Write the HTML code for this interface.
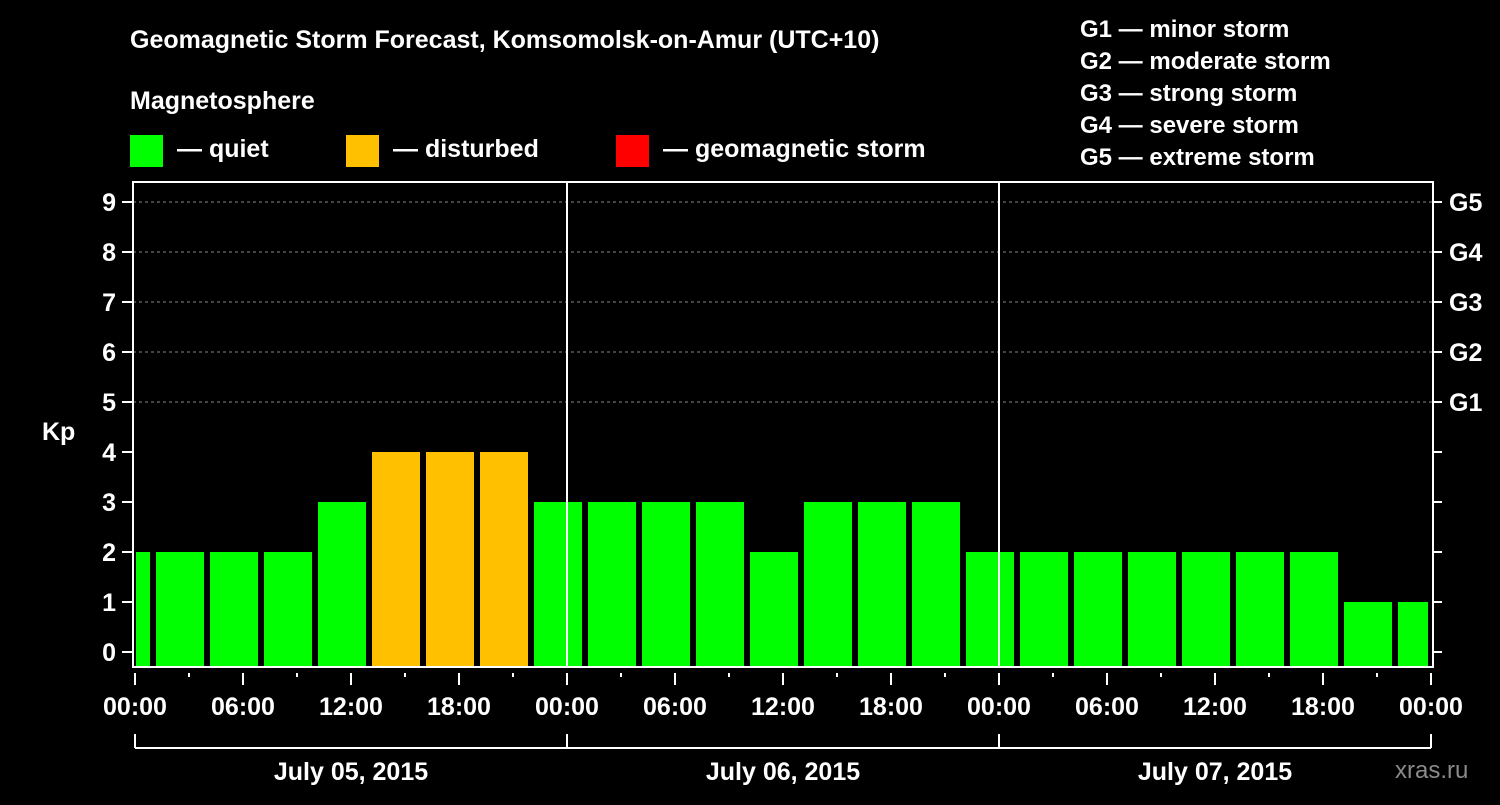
<!DOCTYPE html>
<html><head><meta charset="utf-8"><style>
body{margin:0;background:#000;width:1500px;height:800px;overflow:hidden}
svg text{font-family:"Liberation Sans",Arial,sans-serif;font-weight:bold;fill:#fff}
</style></head><body>
<svg id="chart" width="1500" height="800" xmlns="http://www.w3.org/2000/svg">
<rect width="1500" height="800" fill="#000"/>
<text x="130" y="48" font-size="25">Geomagnetic Storm Forecast, Komsomolsk-on-Amur (UTC+10)</text>
<text x="130" y="109" font-size="25">Magnetosphere</text>
<g><rect x="130" y="135" width="33" height="32" fill="#00ff00"/><text x="177" y="157" font-size="25">— quiet</text></g>
<g><rect x="346" y="135" width="33" height="32" fill="#ffc000"/><text x="393" y="157" font-size="25">— disturbed</text></g>
<g><rect x="616" y="135" width="33" height="32" fill="#ff0000"/><text x="663" y="157" font-size="25">— geomagnetic storm</text></g>
<g font-size="24">
<text x="1080" y="37">G1 — minor storm</text>
<text x="1080" y="69">G2 — moderate storm</text>
<text x="1080" y="101">G3 — strong storm</text>
<text x="1080" y="133">G4 — severe storm</text>
<text x="1080" y="165">G5 — extreme storm</text>
</g>
<g id="grid"></g><g id="bars"></g><g id="axes"></g>
<text x="42" y="440" font-size="25">Kp</text>
<text x="1395" y="778" font-size="24" fill="#888" style="fill:#8a8a8a;font-weight:normal">xras.ru</text>
</svg>
<script>
const kpValues=[2,2,2,2,3,4,4,4,3,3,3,3,2,3,3,3,2,2,2,2,2,2,2,1,1];
const binStartHours=[-2,1,4,7,10,13,16,19,22,25,28,31,34,37,40,43,46,49,52,55,58,61,64,67,70];
const yTicks=[0,1,2,3,4,5,6,7,8,9];
const gLabels=["G1","G2","G3","G4","G5"];
const gLevels=[5,6,7,8,9];
const xTickLabels=["00:00","06:00","12:00","18:00","00:00","06:00","12:00","18:00","00:00","06:00","12:00","18:00","00:00"];
const dayLabels=["July 05, 2015","July 06, 2015","July 07, 2015"];
const NS="http://www.w3.org/2000/svg";
const L=133,R=1433,T=182,B=667;
const x=h=>135+h*18;
const y=v=>652-v*50;
function mk(tag,attrs,parent,txt){const e=document.createElementNS(NS,tag);for(const k in attrs)e.setAttribute(k,attrs[k]);if(txt!==undefined)e.textContent=txt;document.getElementById(parent).appendChild(e);return e;}
function col(v){return v>=5?"#ff0000":v>=4?"#ffc000":"#00ff00";}
gLevels.forEach(v=>{const e=mk("line",{x1:L,x2:R,y1:y(v),y2:y(v),stroke:"#888","stroke-dasharray":"3,3","stroke-width":1},"grid");

});
kpValues.forEach((v,i)=>{let x0=Math.max(x(binStartHours[i])+3,L+3),x1=Math.min(x(binStartHours[i]+3)-3,R-5);
const e=mk("rect",{x:x0,y:y(v),width:x1-x0,height:B-1-y(v),fill:col(v)},"bars");

});
const fr=mk("rect",{x:L,y:T,width:R-L,height:B-T,fill:"none",stroke:"#fff","stroke-width":2},"axes");


[1,2].forEach(d=>{const e=mk("line",{x1:x(d*24),x2:x(d*24),y1:T,y2:B,stroke:"#fff","stroke-width":2},"axes");

});
yTicks.forEach(v=>{mk("line",{x1:122,x2:L,y1:y(v),y2:y(v),stroke:"#fff","stroke-width":2},"axes");
mk("line",{x1:R,x2:R+9,y1:y(v),y2:y(v),stroke:"#fff","stroke-width":2},"axes");
const t=mk("text",{x:116,y:y(v)+9,"font-size":25,"text-anchor":"end"},"axes",v);

});
gLabels.forEach((g,i)=>{const t=mk("text",{x:1449,y:y(gLevels[i])+9,"font-size":25},"axes",g);

});
for(let h=0;h<=72;h+=3){const major=h%6==0;mk("line",{x1:x(h),x2:x(h),y1:B+6,y2:major?B+18:B+10,stroke:"#fff","stroke-width":2},"axes");}
xTickLabels.forEach((s,i)=>{const t=mk("text",{x:x(i*6),y:715,"font-size":25,"text-anchor":"middle"},"axes",s);

});
mk("line",{x1:x(0),x2:x(72),y1:748,y2:748,stroke:"#fff","stroke-width":2},"axes");
for(let d=0;d<=3;d++)mk("line",{x1:x(d*24),x2:x(d*24),y1:734,y2:748,stroke:"#fff","stroke-width":2},"axes");
dayLabels.forEach((s,i)=>{const t=mk("text",{x:x(i*24+12),y:780,"font-size":25,"text-anchor":"middle"},"axes",s);

});
</script>
</body></html>
